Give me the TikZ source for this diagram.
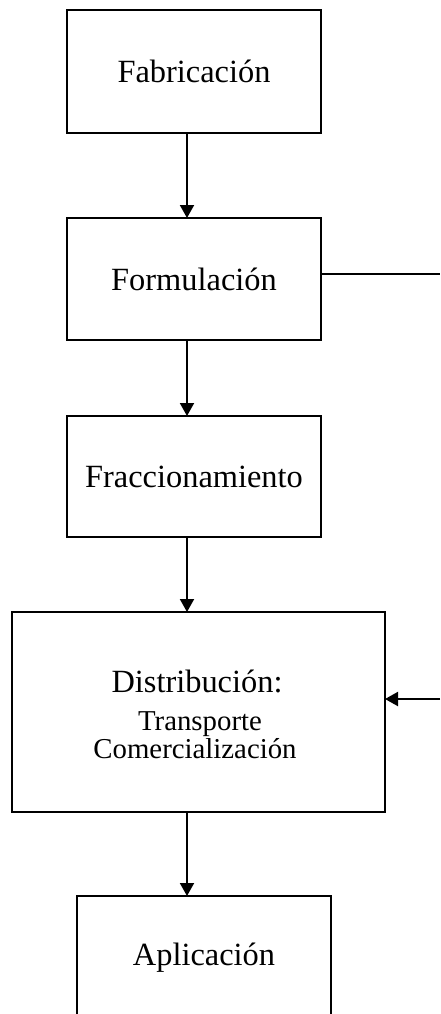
\documentclass[tikz,border=0pt]{standalone}
\usepackage{fontspec}
\setmainfont{Liberation Serif}
\usetikzlibrary{arrows.meta}
\tikzset{
  box/.style={draw=black, line width=1pt, inner sep=0pt, outer sep=0pt,
    font=\fontsize{16.2}{19}\selectfont},
  arr/.style={line width=1pt, -{Triangle[width=7pt,length=6.5pt]}},
  plain/.style={line width=1pt},
  big/.style={font=\fontsize{16.2}{19}\selectfont, inner sep=0pt, anchor=base},
  small/.style={font=\fontsize{14.4}{16}\selectfont, inner sep=0pt, anchor=base}
}
\begin{document}
\begin{tikzpicture}[x=0.5pt,y=-0.5pt]
\useasboundingbox (0,0) rectangle (440,1014);
\clip (0,0) rectangle (440,1014);
\fill[white] (0,0) rectangle (440,1014);
\node[box, minimum width=127pt, minimum height=61.5pt] (b1) at (194,71.5) {Fabricación};
\node[box, minimum width=127pt, minimum height=61pt] (b2) at (194,279) {Formulación};
\node[box, minimum width=127pt, minimum height=60.5pt] (b3) at (194,476.5) {Fraccionamiento};
\node[box, minimum width=186.5pt, minimum height=100pt] (b4) at (198.5,712) {};
\node[big] (t1) at (197,692) {Distribución:};
\node[small] (t2) at (200,730) {Transporte};
\node[small] (t3) at (195,758) {Comercialización};
\node[box, minimum width=127pt, minimum height=62pt] (b5) at (204,958) {Aplicación};
\coordinate (ax) at (187,0);
\coordinate (r1) at (440,274);
\coordinate (r2) at (440,699);
\draw[arr] (b1.south -| ax) -- (b2.north -| ax);
\draw[arr] (b2.south -| ax) -- (b3.north -| ax);
\draw[arr] (b3.south -| ax) -- (b4.north -| ax);
\draw[arr] (b4.south -| ax) -- (b5.north -| ax);
\draw[plain] (r1 -| b2.east) -- (r1);
\draw[arr] (r2) -- (r2 -| b4.east);
\end{tikzpicture}
\end{document}
